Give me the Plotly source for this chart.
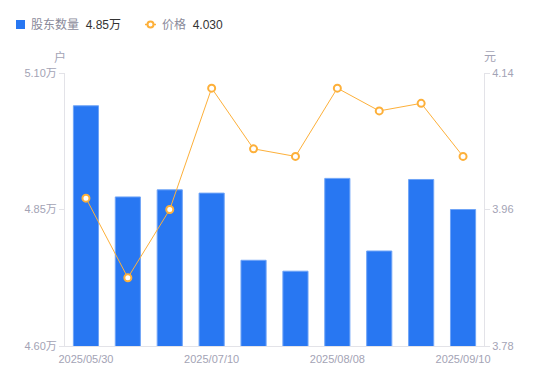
import plotly.graph_objects as go

dates = ["2025/05/30", "2025/06/10", "2025/06/20", "2025/07/10", "2025/07/20",
         "2025/07/31", "2025/08/08", "2025/08/20", "2025/08/29", "2025/09/10"]
holders_wan = [5.04, 4.873, 4.886, 4.880, 4.757, 4.737, 4.907, 4.774, 4.905, 4.850]
price = [3.975, 3.870, 3.960, 4.120, 4.040, 4.030, 4.120, 4.090, 4.100, 4.030]
shown_dates = ["2025/05/30", "2025/07/10", "2025/08/08", "2025/09/10"]
left_ticks = [4.60, 4.85, 5.10]
left_ticktext = ["4.60万", "4.85万", "5.10万"]
right_ticks = [3.78, 3.96, 4.14]
right_ticktext = ["3.78", "3.96", "4.14"]

BLUE = "#2877F2"
ORANGE = "#FDB03A"
GRAY = "#A3A3B5"
AXIS = "#E3E3E8"
FONT = "Liberation Sans, Noto Sans CJK SC, sans-serif"

W, H = 550, 381
ML, MR, MT, MB = 65, 66, 73, 35

fig = go.Figure()
fig.add_trace(go.Bar(
    x=dates, y=holders_wan, name="股东数量",
    marker=dict(color=BLUE, line=dict(color="#6FA4F7", width=1)),
    yaxis="y", showlegend=False,
))
fig.add_trace(go.Scatter(
    x=dates, y=price, name="价格", mode="lines+markers",
    line=dict(color=ORANGE, width=1),
    marker=dict(symbol="circle", size=7, color="white", line=dict(color=ORANGE, width=2)),
    yaxis="y2", showlegend=False,
))

fig.update_layout(
    width=W, height=H,
    margin=dict(l=ML, r=MR, t=MT, b=MB, autoexpand=False),
    paper_bgcolor="white", plot_bgcolor="white",
    font=dict(family=FONT, size=11, color=GRAY),
    bargap=0.4,
    xaxis=dict(
        type="category", categoryorder="array", categoryarray=dates,
        tickmode="array", tickvals=shown_dates, ticktext=shown_dates,
        showline=True, linecolor=AXIS, linewidth=1,
        ticks="", showgrid=False, zeroline=False,
        tickfont=dict(size=11, color=GRAY),
        ticklabelstandoff=3,
        range=[-0.5, 9.5],
    ),
    yaxis=dict(
        range=[4.60, 5.10], tickmode="array", tickvals=left_ticks, ticktext=left_ticktext,
        showline=True, linecolor=AXIS, linewidth=1,
        ticks="outside", ticklen=5, tickcolor=AXIS,
        showgrid=False, zeroline=False,
        tickfont=dict(size=11, color=GRAY),
    ),
    yaxis2=dict(
        range=[3.78, 4.14], overlaying="y", side="right",
        tickmode="array", tickvals=right_ticks, ticktext=right_ticktext,
        showline=True, linecolor=AXIS, linewidth=1,
        ticks="outside", ticklen=5, tickcolor=AXIS,
        showgrid=False, zeroline=False,
        tickfont=dict(size=11, color=GRAY),
    ),
    showlegend=False,
)

pw = W - ML - MR
ph = H - MT - MB
def px(x):
    return (x - ML) / pw
def py(y):
    return (H - MB - y) / ph

# axis unit labels
fig.add_annotation(x=px(60), y=py(57), xref="paper", yref="paper", text="户",
                   xanchor="center", yanchor="middle",
                   showarrow=False, font=dict(size=12, color=GRAY))
fig.add_annotation(x=px(490), y=py(57), xref="paper", yref="paper", text="元",
                   xanchor="center", yanchor="middle",
                   showarrow=False, font=dict(size=12, color=GRAY))

# custom legend
fig.add_shape(type="rect", xref="paper", yref="paper",
              x0=px(16), x1=px(25), y0=py(29), y1=py(20),
              fillcolor=BLUE, line=dict(width=0))
fig.add_annotation(x=px(29), y=py(24.5), xref="paper", yref="paper",
                   xanchor="left", yanchor="middle",
                   text="<span style='color:#8A8A9A'>股东数量</span>  <span style='color:#333333'>4.85万</span>",
                   showarrow=False, font=dict(size=12))
fig.add_shape(type="line", xref="paper", yref="paper",
              x0=px(145), x1=px(156), y0=py(24.5), y1=py(24.5),
              line=dict(color=ORANGE, width=1.5))
fig.add_shape(type="circle", xref="paper", yref="paper",
              x0=px(147.5), x1=px(153.5), y0=py(27.5), y1=py(21.5),
              fillcolor="white", line=dict(color=ORANGE, width=2))
fig.add_annotation(x=px(160), y=py(24.5), xref="paper", yref="paper",
                   xanchor="left", yanchor="middle",
                   text="<span style='color:#8A8A9A'>价格</span>  <span style='color:#333333'>4.030</span>",
                   showarrow=False, font=dict(size=12))

fig.write_html("out.html", config={"displayModeBar": False},
               post_script="document.body.style.margin='0';document.body.style.overflow='hidden';")
